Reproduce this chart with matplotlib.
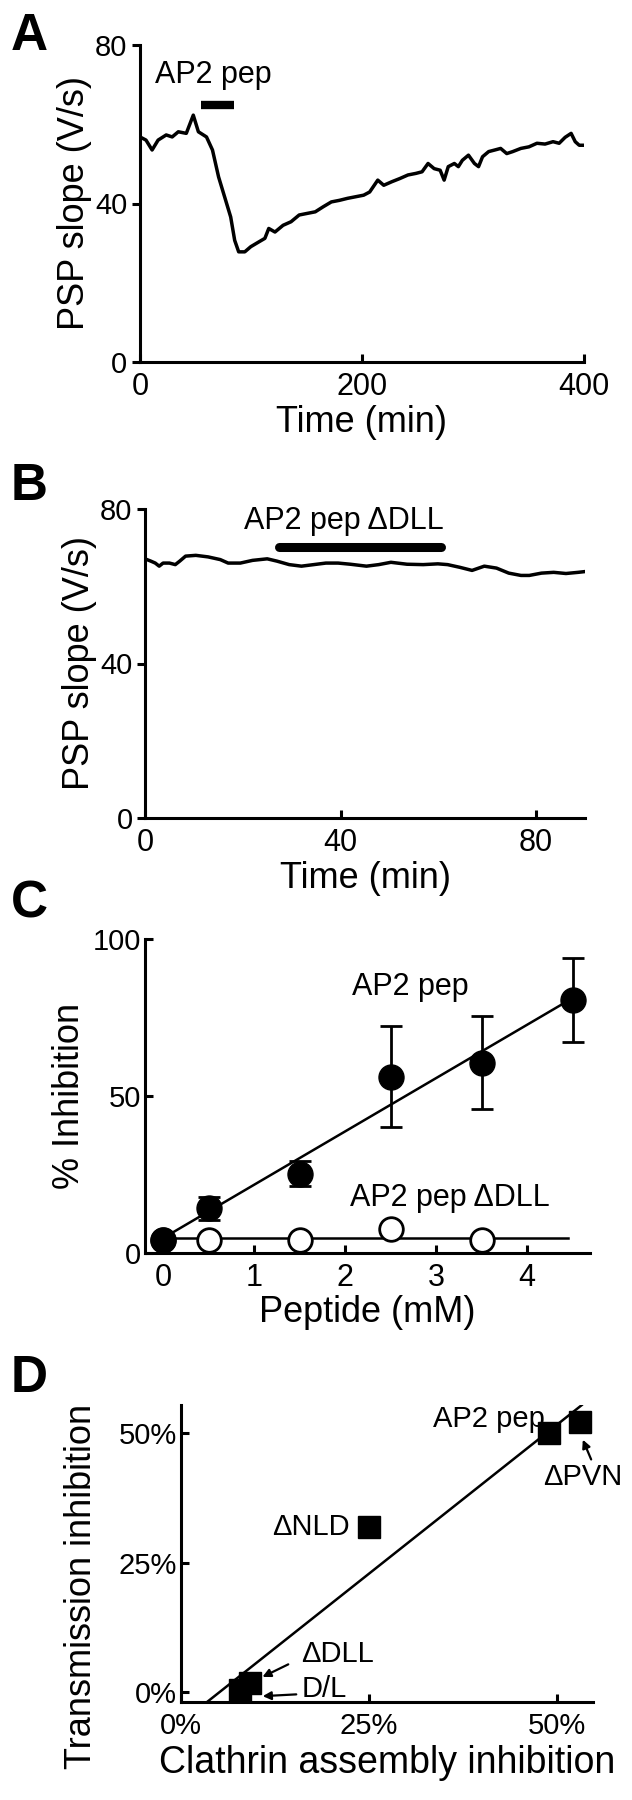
import numpy as np
import matplotlib
matplotlib.use("Agg")
import matplotlib.pyplot as plt

plt.rcParams['font.family'] = ['Liberation Sans', 'DejaVu Sans']

# panel A: PSP slope trace with AP2 peptide
a_time = [0, 5.4, 10.9, 16.3, 23.6, 29, 34.5, 41.7, 48, 52.6, 59.9, 65.3, 70.8, 76.2, 81.7, 85.3, 88.9, 94.4,
          99.8, 107, 112.5, 116, 121.6, 128.9, 136.1, 143.4, 150.6, 157.9, 165.2, 172.4, 179.7, 186.9, 194.2,
          201.5, 206.9, 214.2, 219.6, 226.9, 234.1, 241.4, 248.6, 254.1, 259.5, 265, 270.4, 274, 277.7, 283.2,
          286.8, 290.4, 295.9, 301.3, 305, 308.6, 314.1, 319.6, 324.9, 330.4, 335.8, 343.1, 350.4, 357.6,
          364.9, 372.1, 377.6, 383, 388.4, 392.1, 395.7, 399.3]
a_slope = [56.8, 56, 53.5, 56, 57.3, 56.8, 58.1, 57.7, 62.3, 58.1, 56.8, 53.5, 46.7, 41.7, 36.6, 30.7, 27.8, 27.8,
           29.1, 30.3, 31.2, 33.7, 32.8, 34.5, 35.4, 37.1, 37.5, 37.9, 39.2, 40.4, 40.8, 41.3, 41.7, 42.1, 42.9,
           45.9, 44.6, 45.5, 46.3, 47.2, 47.6, 48, 50.1, 48.8, 48.4, 45.9, 49.3, 50.1, 49.3, 50.9, 52.2, 50.1,
           49.3, 51.8, 53.1, 53.5, 53.9, 52.6, 53.1, 53.9, 54.3, 55.2, 55, 55.6, 55.2, 56.7, 57.7, 55.6, 54.7,
           54.7]
a_bar = [55, 85]

# panel B: PSP slope trace with AP2 pep dDLL
b_time = [0.4, 1.2, 2.1, 2.9, 3.7, 5, 6.2, 7.1, 8.3, 10.4, 12.9, 15.4, 17, 19.5, 22, 25, 27, 29.5, 32, 34.5,
          37, 39.5, 42, 45.3, 47.8, 50.3, 53.6, 56.9, 59.9, 61.9, 64.4, 66.9, 69.4, 71.9, 74.4, 76.9, 78.6,
          81.1, 83.6, 86.1, 88.6, 90]
b_slope = [66.9, 66.5, 66, 65.2, 66, 66, 65.6, 66.5, 67.8, 68, 67.6, 66.9, 66, 66, 66.7, 67.1, 66.5, 65.6,
           65.2, 65.6, 66, 66, 65.7, 65.2, 65.6, 66.2, 65.7, 65.6, 65.8, 65.6, 64.9, 64.1, 65.2, 64.7, 63.4,
           62.8, 62.8, 63.4, 63.6, 63.3, 63.6, 63.8]
b_bar = [27.4, 60.6]

# panel C: dose response
c_conc = [0, 0.5, 1.5, 2.5, 3.5, 4.5]
c_inhib = [4.1, 14.2, 25.2, 56.2, 60.6, 80.6]
c_err = [0, 3.7, 4.0, 16.1, 14.8, 13.4]
c_conc_dll = [0, 0.5, 1.5, 2.5, 3.5]
c_inhib_dll = [4.1, 4.1, 4.1, 7.8, 4.1]

# panel D: transmission vs clathrin assembly inhibition
d_names = ['AP2 pep', '\u0394PVN', '\u0394NLD', '\u0394DLL', 'D/L']
d_clathrin = [48.9, 53.1, 25.0, 9.2, 7.8]
d_transmission = [50.0, 52.1, 31.9, 1.7, 0.4]

W, H = 632, 1800
fig = plt.figure(figsize=(W / 100, H / 100), dpi=100, facecolor='white')


def add_panel(left, right, top, bottom):
    ax = fig.add_axes([left / W, 1 - bottom / H, (right - left) / W, (bottom - top) / H])
    ax.spines['top'].set_visible(False)
    ax.spines['right'].set_visible(False)
    ax.spines['left'].set_linewidth(2.2)
    ax.spines['bottom'].set_linewidth(2.2)
    ax.tick_params(axis='x', direction='in', length=6, width=2.2, labelsize=22, pad=7)
    ax.tick_params(axis='y', direction='out', length=6, width=2.2, labelsize=21, pad=3)
    return ax


def panel_letter(x, y, s):
    fig.text(x / W, 1 - y / H, s, fontsize=37, fontweight='bold', va='baseline', ha='left')


# ---- A ----
ax = add_panel(140, 584, 45, 362)
ax.plot(a_time, a_slope, color='black', lw=2.5)
ax.plot(a_bar, [64.8, 64.8], color='black', lw=6, solid_capstyle='butt')
ax.text(13.5, 70.4, 'AP2 pep', fontsize=22, va='baseline', ha='left')
ax.set_xlim(0, 400)
ax.set_ylim(0, 80)
ax.set_xticks([0, 200, 400])
ax.set_yticks([0, 40, 80])
ax.set_xlabel('Time (min)', fontsize=26, labelpad=2)
ax.set_ylabel('PSP slope (V/s)', fontsize=26, labelpad=2)
panel_letter(11, 50, 'A')

# ---- B ----
ax = add_panel(145, 585, 509, 818)
ax.plot(b_time, b_slope, color='black', lw=2.5)
ax.plot(b_bar, [70.1, 70.1], color='black', lw=6.5, solid_capstyle='round')
ax.text(20.2, 74.8, 'AP2 pep \u0394DLL', fontsize=22, va='baseline', ha='left')
ax.set_xlim(0, 90)
ax.set_ylim(0, 80)
ax.set_xticks([0, 40, 80])
ax.set_yticks([0, 40, 80])
ax.set_xlabel('Time (min)', fontsize=26, labelpad=2)
ax.set_ylabel('PSP slope (V/s)', fontsize=26, labelpad=2)
panel_letter(11, 500, 'B')

# ---- C ----
ax = add_panel(145, 590, 939, 1253)
ax.tick_params(axis='y', direction='in')
k, b0 = np.polyfit(c_conc, c_inhib, 1)
xs = np.array([0, 4.5])
ax.plot(xs, k * xs + b0, color='black', lw=1.8, zorder=2)
ax.plot([0, 4.45], [np.mean(c_inhib_dll)] * 2, color='black', lw=1.8, zorder=2)
ax.plot(c_conc_dll, c_inhib_dll, 'o', ms=17, mfc='white', mec='black', mew=2, zorder=3)
ax.errorbar(c_conc, c_inhib, yerr=c_err, fmt='o', ms=18, color='black', ecolor='black',
            elinewidth=2, capsize=8, capthick=2, zorder=4)
ax.text(2.08, 82.2, 'AP2 pep', fontsize=22, va='baseline', ha='left')
ax.text(2.05, 15.0, 'AP2 pep \u0394DLL', fontsize=22, va='baseline', ha='left')
ax.set_xlim(-0.2, 4.69)
ax.set_ylim(0, 100)
ax.set_xticks([0, 1, 2, 3, 4])
ax.set_yticks([0, 50, 100])
ax.set_xlabel('Peptide (mM)', fontsize=26, labelpad=2)
ax.set_ylabel('% Inhibition', fontsize=26, labelpad=4)
for c in ax.get_children():
    c.set_clip_on(False)
panel_letter(11, 917, 'C')

# ---- D ----
ax = add_panel(181, 593, 1405, 1702)
ax.tick_params(axis='both', direction='in', labelsize=21)
ax.set_xlim(0, 54.8)
ax.set_ylim(-1.9, 55.4)
k, b0 = np.polyfit(d_clathrin, d_transmission, 1)
x0 = (-1.9 - b0) / k
xs = np.array([x0, 53.3])
ax.plot(xs, k * xs + b0, color='black', lw=1.8, zorder=2)
ax.plot(d_clathrin, d_transmission, 's', ms=16.5, color='black', zorder=3, clip_on=False)
ax.text(48.4, 51.2, d_names[0], fontsize=21, va='baseline', ha='right')
ax.text(53.5, 40.0, d_names[1], fontsize=21, va='baseline', ha='center')
ax.text(22.5, 30.3, d_names[2], fontsize=21, va='baseline', ha='right')
ax.text(16.0, 5.8, d_names[3], fontsize=21, va='baseline', ha='left')
ax.text(16.0, -1.0, d_names[4], fontsize=21, va='baseline', ha='left')
arrow = dict(arrowstyle='-|>', color='black', lw=1.6, mutation_scale=12)
ax.annotate('', xy=(53.3, 49.2), xytext=(54.7, 44.4), arrowprops=arrow, annotation_clip=False)
ax.annotate('', xy=(10.5, 2.7), xytext=(14.6, 5.6), arrowprops=arrow, annotation_clip=False)
ax.annotate('', xy=(10.5, -0.8), xytext=(15.7, -0.4), arrowprops=arrow, annotation_clip=False)
ax.set_xticks([0, 25, 50])
ax.set_xticklabels(['0%', '25%', '50%'])
ax.set_yticks([0, 25, 50])
ax.set_yticklabels(['0%', '25%', '50%'])
ax.set_xlabel('Clathrin assembly inhibition', fontsize=27, labelpad=4)
ax.set_ylabel('Transmission inhibition', fontsize=26)
ax.yaxis.set_label_coords(-0.2, 0.39)
panel_letter(11, 1392, 'D')

fig.savefig('out.png', dpi=100, facecolor='white')
